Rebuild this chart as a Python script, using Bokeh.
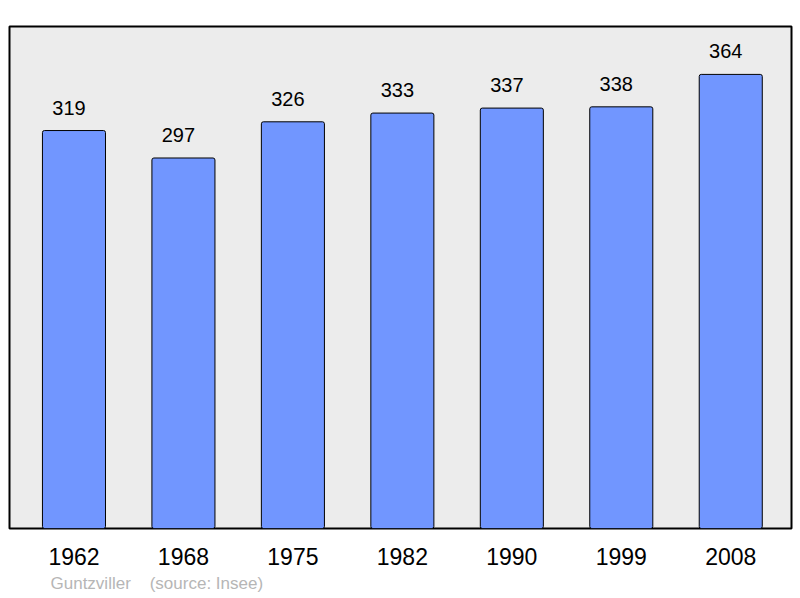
from bokeh.plotting import figure
from bokeh.models import Range1d, FixedTicker, ColumnDataSource, Title
from bokeh.core.properties import value
from bokeh.embed import file_html
from bokeh.resources import INLINE

years = ["1962", "1968", "1975", "1982", "1990", "1999", "2008"]
population = [319, 297, 326, 333, 337, 338, 364]

xs = list(range(len(years)))
src = ColumnDataSource(dict(x=xs, top=population, label=[str(v) for v in population]))

p = figure(frame_width=782, frame_height=502, output_backend="svg", toolbar_location=None,
           x_range=Range1d(-0.589, 6.555), y_range=Range1d(0, 402.4),
           min_border_left=9, min_border_right=8, min_border_top=26, min_border_bottom=70)
p.background_fill_color = "#ececec"
p.border_fill_color = "white"
p.outline_line_color = "black"
p.outline_line_width = 2
p.xgrid.visible = False
p.ygrid.visible = False
p.yaxis.visible = False

p.vbar(x="x", top="top", bottom=0, width=0.576, source=src,
       fill_color="#7196ff", line_color="black", line_width=1, border_radius=2)
p.text(x="x", y="top", text="label", source=src, text_align="center",
       text_baseline="alphabetic", x_offset=-5, y_offset=-23, text_font=value("Liberation Sans"),
       text_font_size="20px", text_color="black")

ax = p.xaxis[0]
ax.ticker = FixedTicker(ticks=xs)
ax.major_label_overrides = {i: y for i, y in enumerate(years)}
ax.axis_line_color = None
ax.major_tick_line_color = None
ax.minor_tick_line_color = None
ax.major_tick_out = 0
ax.major_label_standoff = 19
ax.major_label_text_font = "Liberation Sans"
ax.major_label_text_font_size = "23px"
ax.major_label_text_color = "black"

footer = Title(text="Guntzviller\u00a0\u00a0\u00a0\u00a0(source: Insee)", align="left", offset=41,
               text_font="Liberation Sans", text_font_size="17px", text_font_style="normal",
               text_color="#b6b6b6", standoff=9)
p.add_layout(footer, "below")

open("out.html", "w").write(file_html(p, INLINE))
